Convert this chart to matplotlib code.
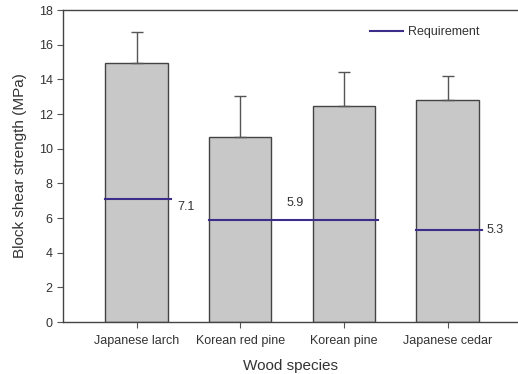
import matplotlib
matplotlib.use("Agg")
import matplotlib.pyplot as plt
import numpy as np

plt.rcParams['font.family'] = ['Liberation Sans', 'DejaVu Sans']

# Block shear strength by species (mean and standard deviation)
species = ['Japanese larch', 'Korean red pine', 'Korean pine', 'Japanese cedar']
strength = [14.95, 10.68, 12.48, 12.81]
strength_sd = [1.8, 2.35, 1.97, 1.37]

# Required values: the two Korean pines share one requirement
req_values = [7.1, 5.9, 5.3]
req_spans = [(0, 0), (1, 2), (3, 3)]

bar_face = '#c8c8c8'
bar_edge = '#444444'
req_color = '#3b2e8a'
text_color = '#333333'

fig = plt.figure(figsize=(5.18, 3.74), dpi=100)
ax = fig.add_axes([0.1216, 0.139, 0.8784, 0.834])

x = np.arange(len(species))
width = 0.6
ax.bar(x, strength, width=width, color=bar_face, edgecolor=bar_edge, linewidth=1.0, zorder=2)
ax.errorbar(x, strength, yerr=[np.zeros(len(x)), strength_sd], fmt='none',
            ecolor='#555555', elinewidth=1.0, capsize=4, capthick=1.0, zorder=3)

for val, (i0, i1) in zip(req_values, req_spans):
    ax.plot([i0 - width / 2, i1 + width / 2 + 0.03], [val, val],
            color=req_color, linewidth=1.5, zorder=4,
            label='Requirement' if i0 == 0 else None)

# value labels next to the requirement lines
ax.text(0.39, 6.65, '7.1', fontsize=9, color=text_color, va='center', ha='left')
ax.text(1.45, 6.85, '5.9', fontsize=9, color=text_color, va='center', ha='left')
ax.text(3.38, 5.3, '5.3', fontsize=9, color=text_color, va='center', ha='left')

ax.set_xlim(-0.71, 3.68)
ax.set_ylim(0, 18)
ax.set_yticks(np.arange(0, 19, 2))
ax.set_xticks(x)
ax.set_xticklabels(species)
ax.tick_params(axis='both', direction='out', length=4, width=0.8,
               colors='#555555', labelcolor=text_color, labelsize=9)
ax.tick_params(axis='x', pad=5)

for side in ['left', 'bottom', 'top']:
    ax.spines[side].set_color('#444444')
    ax.spines[side].set_linewidth(1.0)
ax.spines['right'].set_visible(False)

ax.set_xlabel('Wood species', fontsize=11, color=text_color, labelpad=9)
ax.set_ylabel('Block shear strength (MPa)', fontsize=11, color=text_color, labelpad=8)

leg = ax.legend(loc='upper left', bbox_to_anchor=(0.651, 0.985), frameon=False,
                fontsize=9, handlelength=2.6, handletextpad=0.4)
for t in leg.get_texts():
    t.set_color(text_color)

fig.savefig('out.png', dpi=100)
